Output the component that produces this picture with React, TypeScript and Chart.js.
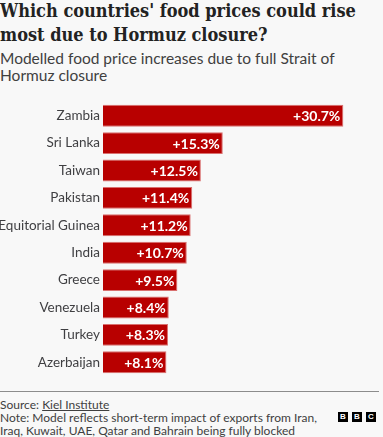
import React, { useEffect, useRef } from "react";
import { Chart, registerables } from "chart.js";

Chart.register(...registerables);

const countries = [
  "Zambia",
  "Sri Lanka",
  "Taiwan",
  "Pakistan",
  "Equitorial Guinea",
  "India",
  "Greece",
  "Venezuela",
  "Turkey",
  "Azerbaijan",
];
const increases = [30.7, 15.3, 12.5, 11.4, 11.2, 10.7, 9.5, 8.4, 8.3, 8.1];

const SANS = "Lato, 'Noto Sans', Arial, sans-serif";
const SERIF = "'DejaVu Serif Condensed', 'Liberation Serif', serif";

const valueLabels = {
  id: "valueLabels",
  afterDatasetsDraw(chart: any) {
    const ctx = chart.ctx;
    const meta = chart.getDatasetMeta(0);
    ctx.save();
    ctx.font = `bold 14px ${SANS}`;
    ctx.fillStyle = "#ffffff";
    ctx.textAlign = "right";
    ctx.textBaseline = "middle";
    meta.data.forEach((bar: any, i: number) => {
      const v = chart.data.datasets[0].data[i];
      ctx.fillText(`+${v.toFixed(1)}%`, bar.x - 3, bar.y + 1);
    });
    ctx.restore();
  },
};

export default function App() {
  const ref = useRef<HTMLCanvasElement | null>(null);
  useEffect(() => {
    document.body.style.margin = "0";
    document.body.style.background = "#f8f8f8";
    if (!ref.current) return;
    const chart = new Chart(ref.current, {
      type: "bar",
      data: {
        labels: countries,
        datasets: [
          {
            data: increases,
            backgroundColor: "#b80000",
            borderColor: "#d9706f",
            borderWidth: 1,
            barPercentage: 0.8,
            categoryPercentage: 1,
          },
        ],
      },
      options: {
        indexAxis: "y",
        animation: false,
        responsive: false,
        maintainAspectRatio: false,
        layout: { padding: { left: 0, right: 6, top: 0, bottom: 0 } },
        plugins: {
          legend: { display: false },
          tooltip: { enabled: false },
        },
        scales: {
          x: { display: false, min: 0, max: 35 },
          y: {
            grid: { display: false, drawTicks: false },
            border: { display: false },
            ticks: {
              padding: 3,
              color: "#3f3f42",
              font: { family: SANS, size: 13.5 },
            },
            afterFit(scale: any) {
              scale.width = 103;
              scale.paddingTop = 0;
              scale.paddingBottom = 0;
            },
          },
        },
      },
      plugins: [valueLabels],
    });
    return () => chart.destroy();
  }, []);

  return (
    <div
      style={{
        position: "relative",
        width: 383,
        height: 437,
        background: "#f8f8f8",
        overflow: "hidden",
        color: "#404040",
      }}
    >
      <div
        style={{
          position: "absolute",
          left: 0,
          top: -1,
          width: 383,
          fontFamily: SERIF,
          fontWeight: "bold",
          fontSize: 18,
          lineHeight: "24px",
          color: "#222222",
        }}
      >
        Which countries' food prices could rise most due to Hormuz closure?
      </div>
      <div
        style={{
          position: "absolute",
          left: 0,
          top: 50,
          width: 383,
          fontFamily: SANS,
          fontSize: 15.5,
          lineHeight: "17px",
          color: "#404040",
          whiteSpace: "nowrap",
        }}
      >
        Modelled food price increases due to full Strait of
        <br />
        Hormuz closure
      </div>
      <canvas
        ref={ref}
        width={383}
        height={274}
        style={{ position: "absolute", left: 0, top: 102, width: 383, height: 274 }}
      />
      <div
        style={{
          position: "absolute",
          left: 0,
          top: 391,
          width: 379,
          height: 1,
          background: "#8c8c8c",
        }}
      />
      <div
        style={{
          position: "absolute",
          left: 0,
          top: 398,
          width: 330,
          fontFamily: SANS,
          fontSize: 12,
          lineHeight: "13px",
          color: "#404040",
          whiteSpace: "nowrap",
        }}
      >
        <div>
          Source: <span style={{ textDecoration: "underline" }}>Kiel Institute</span>
        </div>
        <div>
          Note: Model reflects short-term impact of exports from Iran,
          <br />
          Iraq, Kuwait, UAE, Qatar and Bahrain being fully blocked
        </div>
      </div>
      <div style={{ position: "absolute", left: 338, top: 412, display: "flex", gap: 4 }}>
        {["B", "B", "C"].map((l, i) => (
          <div
            key={i}
            style={{
              width: 10,
              height: 10,
              background: "#000",
              color: "#fff",
              fontFamily: "Arial, sans-serif",
              fontWeight: "bold",
              fontSize: 8,
              lineHeight: "10px",
              textAlign: "center",
            }}
          >
            {l}
          </div>
        ))}
      </div>
    </div>
  );
}
